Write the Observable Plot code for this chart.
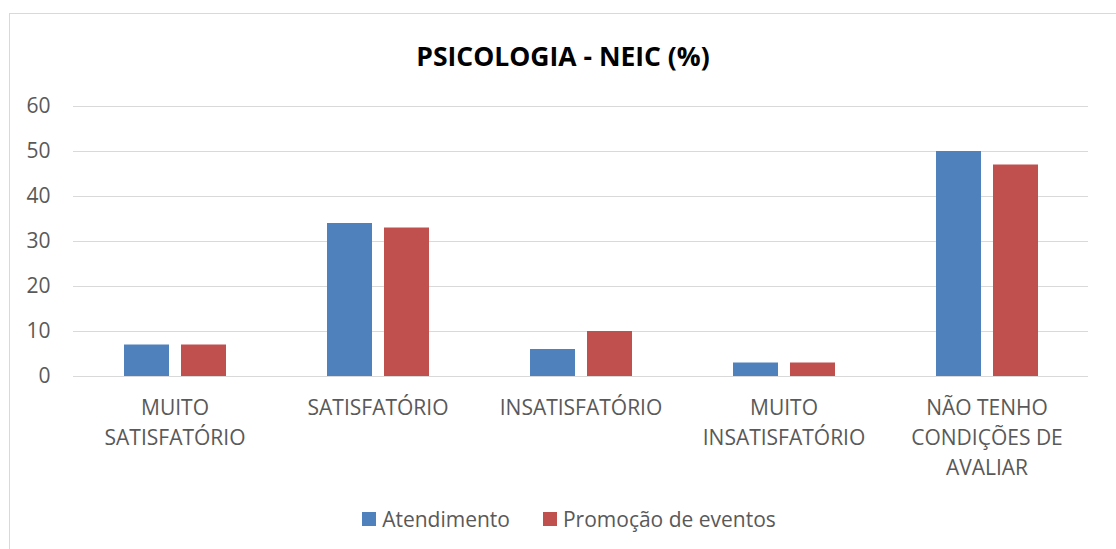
<!DOCTYPE html>
<html>
<head>
<meta charset="utf-8">
<script src="https://cdn.jsdelivr.net/npm/d3@7"></script>
<script src="https://cdn.jsdelivr.net/npm/@observablehq/plot@0.6"></script>
<style>
  html, body { margin: 0; padding: 0; background: #fff; width: 1116px; height: 549px; overflow: hidden; font-family: "Open Sans", sans-serif; }
  #frame { position: absolute; left: 9px; top: 13px; width: 1200px; height: 600px; border: 1px solid #d9d9d9; box-sizing: border-box; }
  #title { position: absolute; left: 0; top: 39px; width: 1126px; text-align: center; font-size: 26.5px; line-height: 34px; font-weight: bold; color: #000; }
  #chart { position: absolute; left: 0; top: 80px; }
  #legend { position: absolute; left: 0; top: 507px; width: 1138px; height: 24px; display: flex; justify-content: center; align-items: center; font-size: 21px; color: #595959; gap: 33px; }
  .item { display: flex; align-items: center; gap: 6px; }
  .sw { width: 14px; height: 14px; display: inline-block; }
</style>
</head>
<body>
<div id="frame"></div>
<div id="title">PSICOLOGIA - NEIC (%)</div>
<div id="chart"></div>
<div id="legend"></div>
<script>
const categories = ["MUITO\nSATISFATÓRIO", "SATISFATÓRIO", "INSATISFATÓRIO", "MUITO\nINSATISFATÓRIO", "NÃO TENHO\nCONDIÇÕES DE\nAVALIAR"];
const series = ["Atendimento", "Promoção de eventos"];
const atendimento = [7, 34, 6, 3, 50];
const promocao = [7, 33, 10, 3, 47];
const yTicks = [0, 10, 20, 30, 40, 50, 60];
const colors = ["#4f81bd", "#c0504d"];

const data = [];
categories.forEach((c, i) => {
  data.push({category: c, series: series[0], value: atendimento[i]});
  data.push({category: c, series: series[1], value: promocao[i]});
});

const chart = Plot.plot({
  width: 1116,
  height: 400,
  marginLeft: 73,
  marginRight: 28,
  marginTop: 26,
  marginBottom: 104,
  style: {fontFamily: "Open Sans", fontSize: "21px", color: "#595959", background: "transparent", overflow: "visible"},
  fx: {domain: categories, padding: 0, label: null, axis: null},
  x: {domain: series, paddingInner: 0.2155, paddingOuter: 0.858, axis: null},
  y: {domain: [0, 60], label: null},
  color: {domain: series, range: colors},
  marks: [
    Plot.gridY(yTicks, {stroke: "#d9d9d9", strokeOpacity: 1, strokeWidth: 1}),
    Plot.axisY(yTicks, {tickSize: 0, tickPadding: 23, label: null, fontSize: 21}),
    Plot.axisFx({anchor: "bottom", tickSize: 0, tickPadding: 17, lineHeight: 1.43, label: null, fontSize: 21}),
    Plot.barY(data, {fx: "category", x: "series", y: "value", fill: "series"})
  ]
});
document.getElementById("chart").appendChild(chart);

const legend = document.getElementById("legend");
series.forEach((s, i) => {
  const it = document.createElement("div");
  it.className = "item";
  const sw = document.createElement("span");
  sw.className = "sw";
  sw.style.background = colors[i];
  const t = document.createElement("span");
  t.textContent = s;
  it.appendChild(sw);
  it.appendChild(t);
  legend.appendChild(it);
});
</script>
</body>
</html>
